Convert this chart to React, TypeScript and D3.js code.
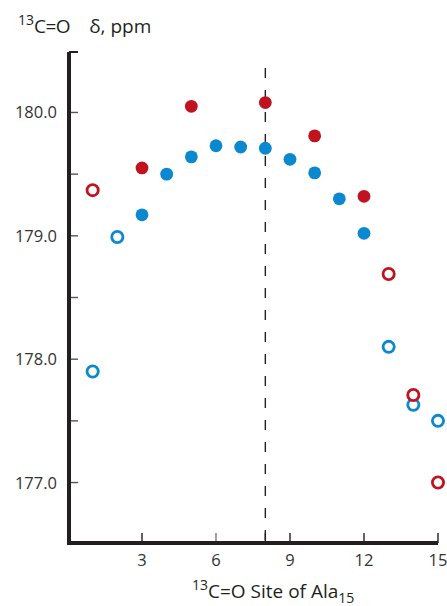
import React from "react";
import * as d3 from "d3";

// residue sites
const sites = [1, 2, 3, 4, 5, 6, 7, 8, 9, 10, 11, 12, 13, 14, 15];
// red series (open for sites 1, 13, 14, 15)
const redSites = [1, 3, 5, 8, 10, 12, 13, 14, 15];
const redValues = [179.37, 179.55, 180.05, 180.08, 179.81, 179.32, 178.69, 177.71, 177.0];
const redOpen = [true, false, false, false, false, false, true, true, true];
// blue series (open for sites 1, 2, 13, 14, 15)
const blueValues = [177.9, 178.99, 179.17, 179.5, 179.64, 179.73, 179.72, 179.71, 179.62, 179.51, 179.3, 179.02, 178.1, 177.63, 177.5];
const blueOpen = [true, true, false, false, false, false, false, false, false, false, false, false, true, true, true];

const xTicks = [3, 6, 8, 9, 12, 15];
const xLabels = [3, 6, 9, 12, 15];
const yTicks = [177.0, 177.5, 178.0, 178.5, 179.0, 179.5, 180.0];
const yLabels = [177.0, 178.0, 179.0, 180.0];
const dashedSite = 8;

const BLUE = "#0a88d0";
const RED = "#c1121f";
const AXIS = "#231f20";
const FONT = "'Open Sans', 'Noto Sans', sans-serif";

export default function App() {
  const width = 447;
  const height = 606;
  const x = d3.scaleLinear().domain([0, 15]).range([68, 438]);
  const y = d3.scaleLinear().domain([176.51, 180.49]).range([543, 52]);
  const fmt = d3.format(".1f");

  const dot = (cx: number, cy: number, color: string, open: boolean, key: string) =>
    open ? (
      <circle key={key} cx={cx} cy={cy} r={5.6} fill="white" stroke={color} strokeWidth={2.8} />
    ) : (
      <circle key={key} cx={cx} cy={cy} r={6.4} fill={color} />
    );

  return (
    <svg
      width={width}
      height={height}
      style={{ position: "absolute", left: 0, top: 0, background: "white" }}
      fontFamily={FONT}
    >
      {/* title */}
      <text x={18} y={33} fontSize={19} fill={AXIS}>
        <tspan fontSize={14} dy={-8}>13</tspan>
        <tspan dy={8} letterSpacing={-0.5}>C=O</tspan>
        <tspan dx={19}>δ, ppm</tspan>
      </text>

      {/* dashed line */}
      <line
        x1={x(dashedSite)}
        x2={x(dashedSite)}
        y1={68}
        y2={y.range()[0]}
        stroke={AXIS}
        strokeWidth={1.4}
        strokeDasharray="10,12"
      />

      {/* y ticks */}
      {yTicks.map((t) => (
        <line key={"yt" + t} x1={69} x2={78} y1={y(t)} y2={y(t)} stroke="#555" strokeWidth={1.4} />
      ))}
      <line x1={69} x2={78} y1={y.range()[1]} y2={y.range()[1]} stroke={AXIS} strokeWidth={2} />
      {yLabels.map((t) => (
        <text key={"yl" + t} x={57} y={y(t) + 6} fontSize={16.5} textAnchor="end" fill="#333">
          {fmt(t)}
        </text>
      ))}

      {/* x ticks */}
      {xTicks.map((t) => (
        <line key={"xt" + t} x1={x(t)} x2={x(t)} y1={543} y2={533} stroke={t === 6 ? "#777" : AXIS} strokeWidth={1.4} />
      ))}
      {xLabels.map((t) => (
        <text key={"xl" + t} x={x(t)} y={566} fontSize={16.5} textAnchor="middle" fill="#333">
          {t}
        </text>
      ))}

      {/* axes */}
      <line x1={69} x2={69} y1={y.range()[1]} y2={545} stroke={AXIS} strokeWidth={4} />
      <line x1={67} x2={x(15)} y1={543} y2={543} stroke={AXIS} strokeWidth={4} />

      {/* x axis label */}
      <text x={192} y={598} fontSize={19} fill={AXIS}>
        <tspan fontSize={14} dy={-8}>13</tspan>
        <tspan dy={8}>C=O Site of Ala</tspan>
        <tspan fontSize={14} dy={5}>15</tspan>
      </text>

      {/* points */}
      {sites.map((s, i) => dot(x(s), y(blueValues[i]), BLUE, blueOpen[i], "b" + s))}
      {redSites.map((s, i) => dot(x(s), y(redValues[i]), RED, redOpen[i], "r" + s))}
    </svg>
  );
}
